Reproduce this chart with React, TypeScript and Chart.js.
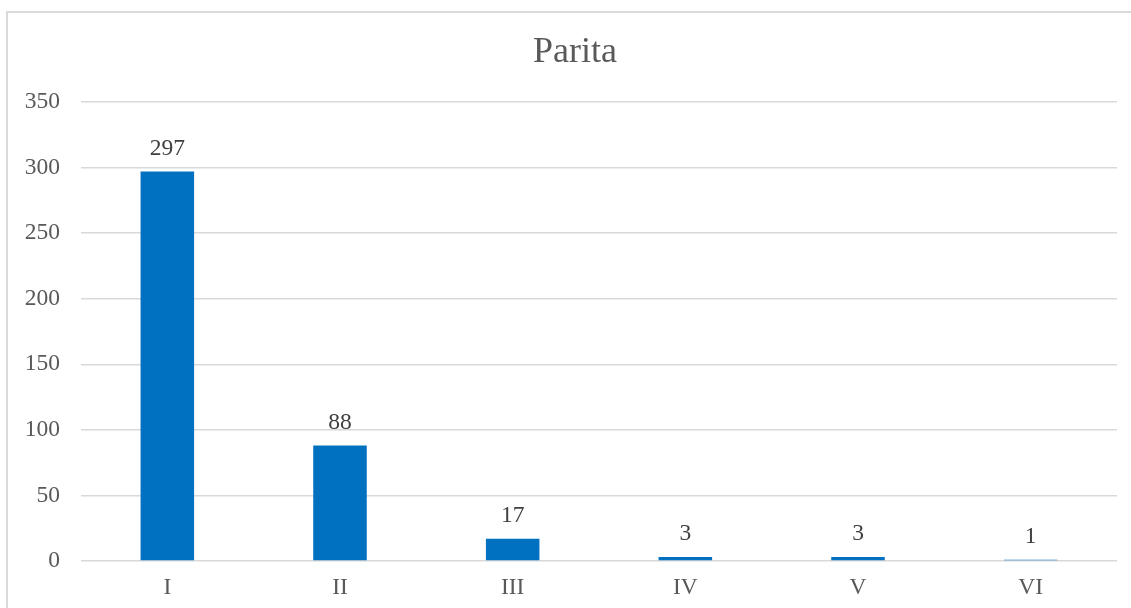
import React, { useEffect, useRef } from "react";
import { Chart, registerables } from "chart.js";

Chart.register(...registerables);

const categories = ["I", "II", "III", "IV", "V", "VI"];
const values = [297, 88, 17, 3, 3, 1];
const titleText = "Parita";
const yMin = 0;
const yMax = 350;
const yStep = 50;

const FONT = "'Liberation Serif', 'Times New Roman', serif";
const TEXT = "#595959";

const dataLabels = {
  id: "dataLabels",
  afterDatasetsDraw(chart: any) {
    const ctx = chart.ctx;
    const meta = chart.getDatasetMeta(0);
    ctx.save();
    ctx.font = `23.5px ${FONT}`;
    ctx.fillStyle = "#404040";
    ctx.textAlign = "center";
    ctx.textBaseline = "middle";
    meta.data.forEach((bar: any, i: number) => {
      ctx.fillText(String(values[i]), bar.x, bar.y - 23);
    });
    ctx.restore();
  },
};

const chartTitle = {
  id: "chartTitle",
  afterDraw(chart: any) {
    const ctx = chart.ctx;
    ctx.save();
    ctx.font = `36px ${FONT}`;
    ctx.fillStyle = TEXT;
    ctx.textAlign = "center";
    ctx.textBaseline = "alphabetic";
    ctx.fillText(titleText, 575, 62);
    ctx.restore();
  },
};

export default function App() {
  const ref = useRef<HTMLCanvasElement | null>(null);
  useEffect(() => {
    if (!ref.current) return;
    const chart = new Chart(ref.current, {
      type: "bar",
      data: {
        labels: categories,
        datasets: [
          {
            data: values,
            backgroundColor: "#0070C0",
            borderWidth: 0,
            categoryPercentage: 0.62,
            barPercentage: 0.5,
          },
        ],
      },
      options: {
        animation: false,
        responsive: false,
        layout: { padding: { left: 0, right: 14, top: 102, bottom: 0 } },
        plugins: {
          legend: { display: false },
          tooltip: { enabled: false },
          title: { display: false },
        },
        scales: {
          x: {
            grid: { display: false, drawTicks: false },
            border: { display: false },
            ticks: { color: TEXT, font: { family: FONT, size: 23.5 }, padding: 13 },
            afterFit: (s: any) => {
              s.height = 47;
            },
          },
          y: {
            min: yMin,
            max: yMax,
            grid: { color: "#d9d9d9", lineWidth: 1.5, drawTicks: false },
            border: { display: false },
            ticks: {
              stepSize: yStep,
              color: TEXT,
              font: { family: FONT, size: 23.5 },
              padding: 21,
            },
            afterFit: (s: any) => {
              s.width = 81;
            },
          },
        },
      },
      plugins: [dataLabels, chartTitle],
    });
    return () => chart.destroy();
  }, []);
  return (
    <div style={{ position: "fixed", left: 0, top: 0, width: 1131, height: 608, overflow: "hidden", background: "#fff" }}>
      <div
        style={{
          position: "absolute",
          left: 6,
          top: 11,
          width: 1200,
          height: 700,
          border: "2px solid #d9d9d9",
          boxSizing: "border-box",
        }}
      />
      <canvas ref={ref} width={1131} height={608} style={{ position: "absolute", left: 0, top: 0 }} />
    </div>
  );
}
